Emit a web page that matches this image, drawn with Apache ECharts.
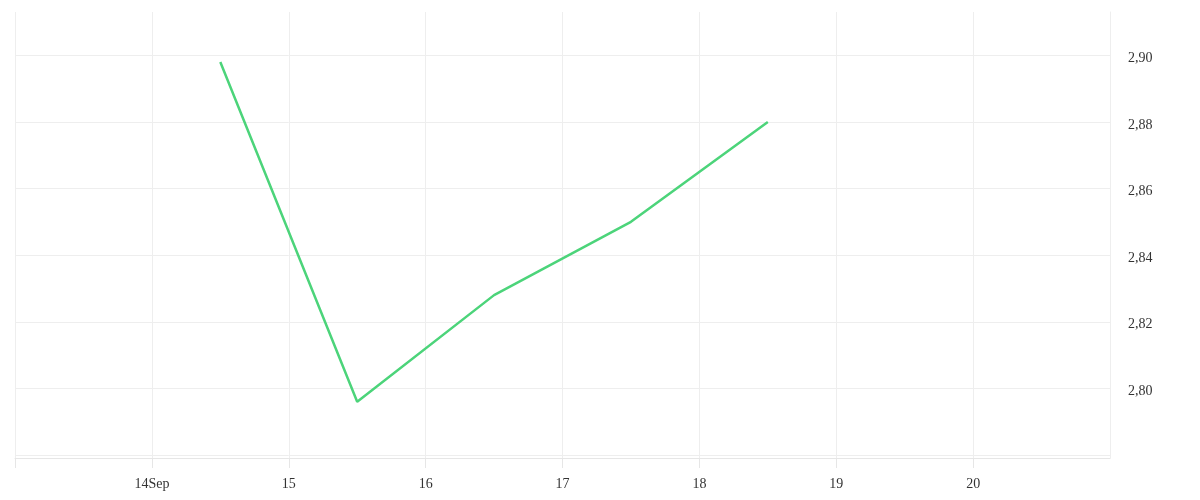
<!DOCTYPE html>
<html>
<head>
<meta charset="utf-8">
<script src="https://cdn.jsdelivr.net/npm/echarts@6/dist/echarts.min.js"></script>
<style>
  html, body { margin: 0; padding: 0; background: #fff; }
  #chart { width: 1200px; height: 500px; }
</style>
</head>
<body>
<div id="chart"></div>
<script>
// datos (mediodía de cada día, septiembre)
const days = [14, 15, 16, 17, 18];
const values = [2.898, 2.796, 2.828, 2.850, 2.880];

const DAY = 86400000;
const xStart = new Date(2020, 8, 13).getTime();
const xEnd = new Date(2020, 8, 21).getTime();

const points = days.map((d, i) => [new Date(2020, 8, d, 12).getTime(), values[i]]);

const chart = echarts.init(document.getElementById('chart'));

chart.setOption({
  animation: false,
  textStyle: { fontFamily: 'Liberation Serif' },
  grid: { left: 15, right: 90, top: 12, bottom: 42, containLabel: false },
  xAxis: {
    type: 'time',
    min: xStart,
    max: xEnd,
    minInterval: DAY,
    maxInterval: DAY,
    axisLine: { show: true, lineStyle: { color: '#e6e6e6' } },
    axisTick: { show: true, length: 10, lineStyle: { color: '#e6e6e6' } },
    splitLine: { show: true, lineStyle: { color: '#eeeeee' } },
    axisLabel: {
      color: '#333',
      fontSize: 14,
      fontFamily: 'Liberation Serif',
      margin: 19,
      formatter: function (v) {
        const d = new Date(v);
        const n = d.getDate();
        if (n === 13 || n === 21) return '';
        return n === 14 ? '14Sep' : String(n);
      }
    }
  },
  yAxis: {
    type: 'value',
    position: 'right',
    min: 2.7791,
    max: 2.913,
    splitNumber: 7,
    axisLine: { show: true, lineStyle: { color: '#eeeeee' } },
    axisTick: { show: false },
    splitLine: { show: true, showMaxLine: false, lineStyle: { color: '#eeeeee' } },
    axisLabel: {
      color: '#333',
      fontSize: 14,
      fontFamily: 'Liberation Serif',
      margin: 18,
      formatter: function (v) {
        if (v < 2.79 || v > 2.905) return '';
        return '{a|' + v.toFixed(2).replace('.', ',') + '}';
      },
      rich: {
        a: { fontSize: 14, fontFamily: 'Liberation Serif', color: '#333', padding: [6, 0, 0, 0] }
      }
    }
  },
  series: [{
    type: 'line',
    data: points,
    showSymbol: false,
    lineStyle: { color: '#4cd47a', width: 2.5 }
  }]
});
</script>
</body>
</html>
